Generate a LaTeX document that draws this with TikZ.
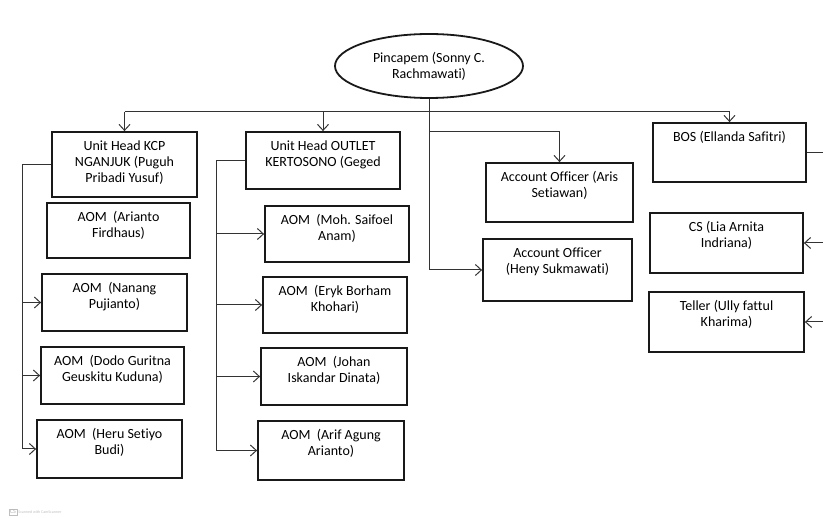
\documentclass[tikz,border=0pt]{standalone}
\usepackage{fontspec}
\setmainfont[Ligatures=NoCommon]{Carlito}
\usetikzlibrary{arrows.meta,shapes.geometric}
\newcommand\bxt[3]{\parbox[c][#2pt][t]{#1pt}{\centering\vspace*{7pt}\strut #3\par}}
\tikzset{
  every node/.style={font=\fontsize{14}{16}\selectfont},
  orgbox/.style={draw=black!90, line width=1.8pt, rectangle, inner sep=0pt, fill=white},
  link/.style={draw=black!80, line width=1pt},
  arr/.style={link, -{Straight Barb[length=6pt,width=11pt,line width=1pt]}},
}
\begin{document}
\begin{tikzpicture}[x=1pt,y=-1pt]
\useasboundingbox (0,0) rectangle (823,518);
% nodes
\node[ellipse, draw=black!90, line width=1.8pt, minimum width=188pt, minimum height=64pt, inner sep=0pt, align=center] (pin) at (429,66) {Pincapem (Sonny C.\\Rachmawati)};
\node[orgbox] (kcp) at (124.5,164.5) {\bxt{145}{65}{Unit Head KCP\\NGANJUK (Puguh\\Pribadi Yusuf)}};
\node[orgbox] (aoma) at (118.5,230.5) {\bxt{143}{55}{AOM~ (Arianto\\Firdhaus)}};
\node[orgbox] (aomb) at (114.5,302.5) {\bxt{145}{57}{AOM~ (Nanang\\Pujianto)}};
\node[orgbox] (aomc) at (112.5,375.5) {\bxt{143}{57}{AOM~ (Dodo Guritna\\Geuskitu Kuduna)}};
\node[orgbox] (aomd) at (109.5,449) {\bxt{145}{58}{AOM~ (Heru Setiyo\\Budi)}};
\node[orgbox] (out) at (323,160.5) {\bxt{154}{57}{Unit Head OUTLET\\KERTOSONO (Geged}};
\node[orgbox] (ma) at (337,234) {\bxt{144}{56}{AOM~ (Moh. Saifoel\\Anam)}};
\node[orgbox] (mb) at (335,305) {\bxt{144}{56}{AOM~ (Eryk Borham\\Khohari)}};
\node[orgbox] (mc) at (334,376.5) {\bxt{146}{57}{AOM~ (Johan\\Iskandar Dinata)}};
\node[orgbox] (md) at (331,450.5) {\bxt{146}{59}{AOM~ (Arif Agung\\Arianto)}};
\node[orgbox] (aoa) at (559.5,192.5) {\bxt{147}{59}{Account Officer (Aris\\Setiawan)}};
\node[orgbox] (aob) at (557.5,270) {\bxt{149}{62}{Account Officer\\(Heny Sukmawati)}};
\node[orgbox] (bos) at (729.5,152.5) {\bxt{153}{59}{BOS (Ellanda Safitri)}};
\node[orgbox] (cs) at (726.5,243) {\bxt{153}{60}{CS (Lia Arnita\\Indriana)}};
\node[orgbox] (tel) at (726.5,322) {\bxt{155}{60}{Teller (Ully fattul\\Kharima)}};
% watermark
\node[draw=black!25, line width=0.5pt, inner sep=1pt, text=black!30, font=\fontsize{6}{6}\selectfont] (csl) at (13,512) {CS};
\node[anchor=west, text=black!25, font=\fontsize{4}{4}\selectfont, inner sep=1pt] (csw) at (csl.east) {Scanned with CamScanner};
% coordinates
\coordinate (bus) at (0,112);
\coordinate (br) at (0,132);
\coordinate (kl) at (22,0);
\coordinate (ml) at (216,0);
\coordinate (redge) at (823,0);
% connectors
\draw[link] (kcp.north |- bus) -- (bos.north |- bus);
\draw[arr] (kcp.north |- bus) -- (kcp.north);
\draw[arr] (out.north |- bus) -- (out.north);
\draw[arr] (bos.north |- bus) -- (bos.north);
\draw[arr] (pin.south) |- (aob.west);
\draw[arr] (pin.south |- br) -| (aoa.north);
\draw[link] (kcp.west) -| (kl |- aomd.west);
\foreach \n in {aomb,aomc,aomd} \draw[arr] (kl |- \n.west) -- (\n.west);
\draw[link] (out.west) -| (ml |- md.west);
\foreach \n in {ma,mb,mc,md} \draw[arr] (ml |- \n.west) -- (\n.west);
\draw[link] (bos.east) -- (bos.east -| redge);
\draw[arr] (redge |- cs.east) -- (cs.east);
\draw[arr] (redge |- tel.east) -- (tel.east);
\end{tikzpicture}
\end{document}
